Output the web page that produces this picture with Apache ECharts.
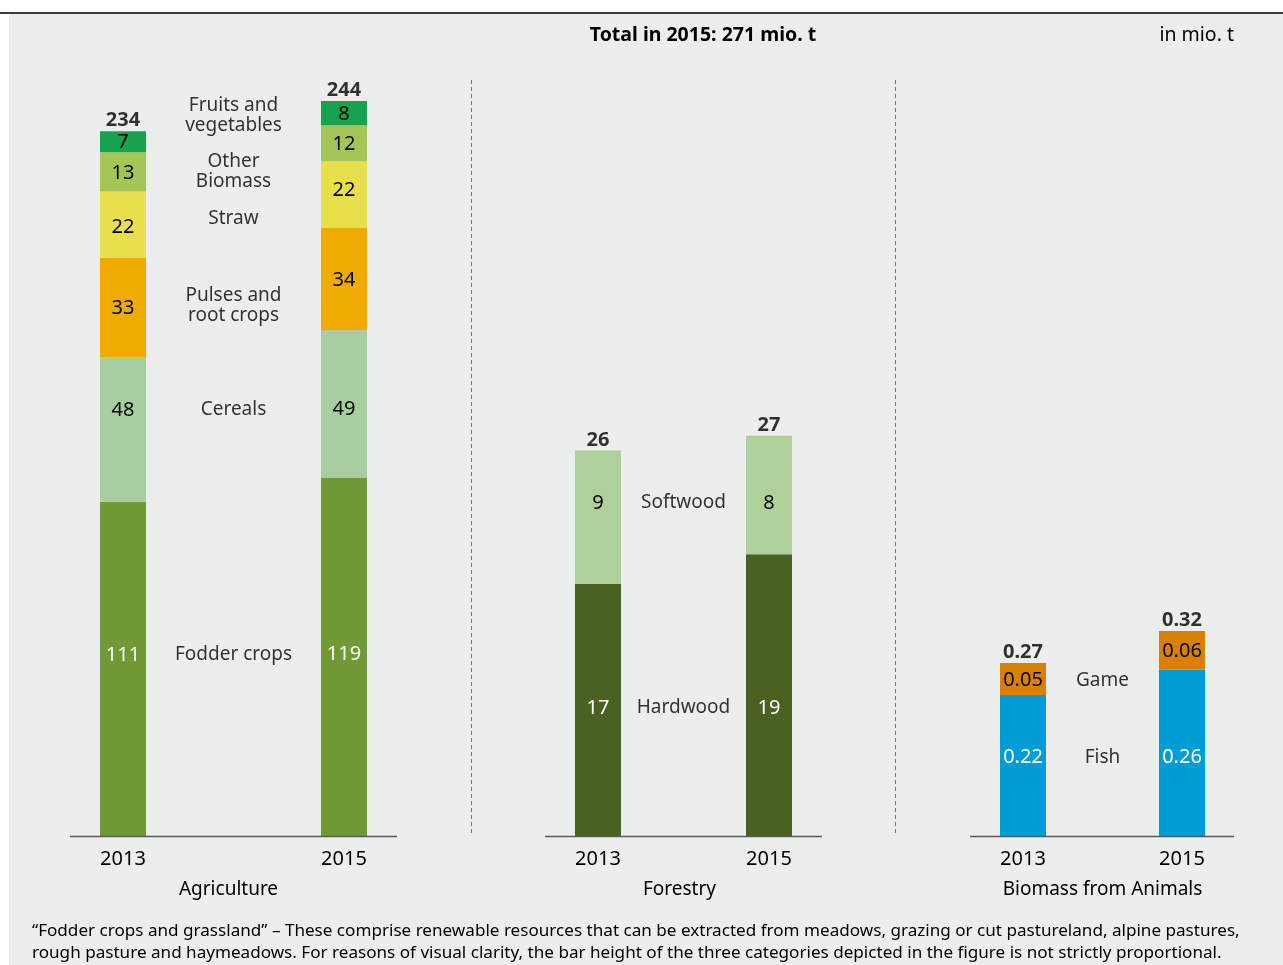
<!DOCTYPE html>
<html><head><meta charset="utf-8">
<script src="https://cdn.jsdelivr.net/npm/echarts@6/dist/echarts.min.js"></script>
<style>html,body{margin:0;padding:0;background:#fff}#c{width:1283px;height:965px}</style>
</head><body><div id="c"></div>
<script>
// ---------------- DATA (mio. t) ----------------
const years = ['2013', '', '2015'];
const panelNames = ['Agriculture', 'Forestry', 'Biomass from Animals'];

// Agriculture, bottom to top
const agriNames = ['Fodder crops', 'Cereals', 'Pulses and\nroot crops', 'Straw', 'Other\nBiomass', 'Fruits and\nvegetables'];
const agriFodder = [111, 119];
const agriCereals = [48, 49];
const agriPulses = [33, 34];
const agriStraw = [22, 22];
const agriOther = [13, 12];
const agriFruits = [7, 8];
const agriTotal = [234, 244];

// Forestry, bottom to top
const forestNames = ['Hardwood', 'Softwood'];
const forestHard = [17, 19];
const forestSoft = [9, 8];
const forestTotal = [26, 27];

// Biomass from animals, bottom to top
const animalNames = ['Fish', 'Game'];
const animalFish = [0.22, 0.26];
const animalGame = [0.05, 0.06];
const animalTotal = [0.27, 0.32];

const titleText = 'Total in 2015: 271 mio. t';
const unitText = 'in mio. t';
const footnote = [
  '\u201CFodder crops and grassland\u201D \u2013 These comprise renewable resources that can be extracted from meadows, grazing or cut pastureland, alpine pastures,',
  'rough pasture and haymeadows. For reasons of visual clarity, the bar height of the three categories depicted in the figure is not strictly proportional.'
];

// ---------------- LAYOUT / STYLE ----------------
const FONT = '"Noto Sans", "DejaVu Sans", sans-serif';
const TXT = '#000000';
const panels = [
  { left: 67.75, width: 331.5, yMax: 251, base: [70, 397], nameShift: -5,
    segs: [
      { v: agriFodder,  c: '#6f9a35', t: '#ffffff', off: [-14, -2] },
      { v: agriCereals, c: '#a8cd9e', t: TXT, off: [-19, 6] },
      { v: agriPulses,  c: '#f0ab00', t: TXT, off: [1, 2] },
      { v: agriStraw,   c: '#e8e04b', t: TXT, off: [3, -4] },
      { v: agriOther,   c: '#a5c657', t: TXT, off: [1, 1] },
      { v: agriFruits,  c: '#17a24d', t: TXT, off: [1, 1] }
    ],
    names: agriNames, nameY: [60.8, 142.1, 176.8, 205.8, 221.4, 240.0], total: agriTotal },
  { left: 555.25, width: 256.5, yMax: 51, base: [545, 822], nameShift: -4,
    segs: [
      { v: forestHard, c: '#4a6122', t: '#ffffff', off: [-2, 13] },
      { v: forestSoft, c: '#aed19b', t: TXT, off: [-14, 8] }
    ],
    names: forestNames, nameY: [8.8, 22.6], total: forestTotal },
  { left: 983.25, width: 238.5, yMax: 1.18, base: [970, 1234], nameShift: 0,
    segs: [
      { v: animalFish, c: '#009cd4', t: '#ffffff', off: [-8, 5] },
      { v: animalGame, c: '#d88000', t: TXT, off: [1, 1] }
    ],
    names: animalNames, nameY: [0.125, 0.245], total: animalTotal }
];

const grids = [], xAxes = [], yAxes = [], series = [], graphics = [];

// background
graphics.push({ type: 'rect', z: -100, shape: { x: 9, y: 14, width: 1283 - 9, height: 965 - 14 }, style: { fill: '#eceeed' } });
graphics.push({ type: 'line', z: 100, shape: { x1: 0, y1: 13, x2: 1283, y2: 13 }, style: { stroke: '#3a3a3a', lineWidth: 2 } });

panels.forEach((p, i) => {
  grids.push({ left: p.left, width: p.width, top: 80, bottom: 129 });
  xAxes.push({
    type: 'category', gridIndex: i, data: years,
    axisLine: { show: false }, axisTick: { show: false },
    axisLabel: { interval: 0, fontSize: 20, color: TXT, margin: 13, fontFamily: FONT },
    name: panelNames[i], nameLocation: 'middle', nameGap: 44,
    nameTextStyle: { fontSize: 19, color: TXT, fontFamily: FONT, padding: [0, 0, 0, p.nameShift * 2] }
  });
  yAxes.push({ type: 'value', gridIndex: i, min: 0, max: p.yMax, show: false, splitLine: { show: false } });

  p.segs.forEach((s, k) => {
    series.push({
      type: 'bar', name: p.names[k].replace('\n', ' '), xAxisIndex: i, yAxisIndex: i, stack: 'st' + i,
      barWidth: 46, itemStyle: { color: s.c }, silent: true,
      label: { show: true, position: 'inside', color: s.t, fontSize: 20, fontFamily: FONT },
      data: [
        { value: s.v[0], label: { offset: [0, s.off[0]] } },
        '-',
        { value: s.v[1], label: { offset: [0, s.off[1]] } }
      ]
    });
  });

  // totals above bars
  series.push({
    type: 'scatter', xAxisIndex: i, yAxisIndex: i, symbolSize: 1, silent: true,
    itemStyle: { color: 'rgba(0,0,0,0)' },
    label: { show: true, position: 'top', distance: 0, fontSize: 20, fontWeight: 'bold', color: '#000', fontFamily: FONT,
      formatter: q => String(q.value[1]) },
    data: [[0, p.total[0]], [2, p.total[1]]]
  });

  // category names between bars
  series.push({
    type: 'scatter', xAxisIndex: i, yAxisIndex: i, symbolSize: 1, silent: true,
    itemStyle: { color: 'rgba(0,0,0,0)' },
    label: { show: true, position: 'inside', offset: [0, 2], fontSize: 19, lineHeight: 20, color: TXT, fontFamily: FONT, align: 'center',
      formatter: q => q.name },
    data: p.names.map((n, k) => ({ name: n, value: [1, p.nameY[k]] }))
  });

  // baseline
  graphics.push({ type: 'line', z: 100, shape: { x1: p.base[0], y1: 836.5, x2: p.base[1], y2: 836.5 }, style: { stroke: '#5a5a5a', lineWidth: 1.6 } });
});

// dashed panel separators
[471.5, 895.5].forEach(x => graphics.push({ type: 'line', z: 100, shape: { x1: x, y1: 80, x2: x, y2: 836 },
  style: { stroke: '#777', lineWidth: 1, lineDash: [4, 3] } }));

// texts
graphics.push({ type: 'text', z: 100, x: 703, y: 35, style: { text: titleText, font: 'bold 19.5px ' + FONT, fill: '#000', align: 'center', verticalAlign: 'middle' } });
graphics.push({ type: 'text', z: 100, x: 1234, y: 35, style: { text: unitText, font: '19.5px ' + FONT, fill: '#000', align: 'right', verticalAlign: 'middle' } });
footnote.forEach((t, k) => graphics.push({ type: 'text', z: 100, x: 32, y: 931 + k * 22,
  style: { text: t, font: '17.1px ' + FONT, fill: '#000', align: 'left', verticalAlign: 'middle' } }));

const chart = echarts.init(document.getElementById('c'), null, { renderer: 'canvas' });
chart.setOption({
  backgroundColor: '#ffffff',
  animation: false,
  grid: grids, xAxis: xAxes, yAxis: yAxes, series: series, graphic: graphics
});
</script></body></html>
